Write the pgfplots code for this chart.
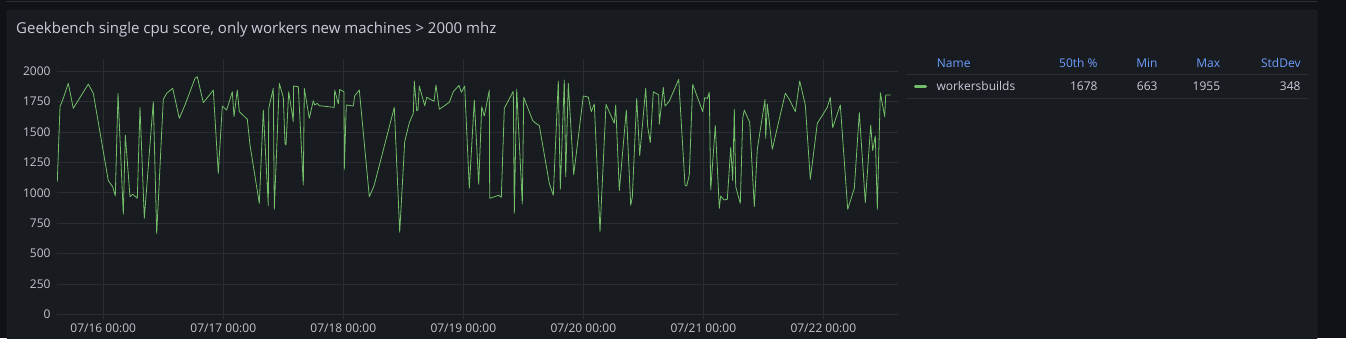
\documentclass[border=0pt]{standalone}
\usepackage{fontspec}
\setmainfont{Open Sans}
\usepackage{pgfplots}
\pgfplotsset{compat=1.18}
\definecolor{outerbg}{HTML}{111217}
\definecolor{panelbg}{HTML}{181B1F}
\definecolor{panelborder}{HTML}{2B2D33}
\definecolor{gridc}{HTML}{2A2D32}
\definecolor{txt}{HTML}{CCCCDC}
\definecolor{ticktxt}{HTML}{C4C4D0}
\definecolor{hdr}{HTML}{6E9FFF}
\definecolor{series}{HTML}{73BF69}
\begin{document}
\begin{tikzpicture}[x=1pt,y=1pt]
\fill[outerbg] (0,0) rectangle (1346,338);
\draw[panelborder] (6,336.5) -- (1317,336.5);
\fill[panelbg,draw=panelborder,rounded corners=2pt] (7,-5) rectangle (1317,327.5);
\node[anchor=base west,inner sep=0pt,text=txt,font=\fontsize{15}{18}\selectfont] at (16,304.7) {Geekbench single cpu score, only workers new machines > 2000 mhz};
\begin{axis}[
  at={(57pt,19.45pt)}, anchor=south west,
  scale only axis, width=841pt, height=259.4pt,
  xmin=-9.26, xmax=158.94, ymin=-35, ymax=2100,
  axis line style={draw=none},
  major tick length=0pt,
  grid=major,
  major grid style={gridc, line width=0.8pt},
  xtick={0,24,48,72,96,120,144},
  xticklabels={07/16 00:00,07/17 00:00,07/18 00:00,07/19 00:00,07/20 00:00,07/21 00:00,07/22 00:00},
  ytick={0,250,500,750,1000,1250,1500,1750,2000},
  /pgf/number format/assume math mode=true,
  /pgf/number format/1000 sep={},
  tick label style={text=ticktxt, font=\fontsize{12}{14}\selectfont},
  x tick label style={inner sep=0pt, anchor=north, yshift=-4.8pt},
  y tick label style={inner sep=0pt, anchor=east, xshift=-6.3pt},
  clip=true,
]
\addplot[series, line width=0.8pt, line join=round] coordinates {
(-9.20,1092) (-8.66,1709) (-8.00,1778) (-7.00,1901) (-6.00,1695) (-3.00,1895) (-2.00,1819)
(1.00,1100) (1.88,1050) (2.40,974) (2.94,1819) (4.00,823) (4.40,1476) (5.34,968) (5.88,988)
(6.80,955) (7.34,1703) (8.20,790) (10.00,1750) (10.68,663) (12.00,1769) (12.68,1819)
(13.88,1860) (15.20,1613) (16.34,1723) (18.34,1942) (18.80,1955) (20.00,1742) (21.88,1838)
(22.00,1846) (23.00,1160) (23.80,1714) (24.68,1681) (25.80,1832) (26.14,1627) (26.80,1846)
(27.20,1668) (28.80,1605) (29.34,1393) (31.20,913) (32.00,1681) (33.00,894) (33.08,1695)
(34.00,1860) (34.20,864) (35.20,1901) (36.00,1786) (36.34,1407) (36.54,1393) (37.08,1832)
(38.00,1585) (38.06,1879) (39.00,1873) (40.00,1064) (40.20,1860) (41.20,1613) (42.00,1758)
(42.28,1723) (42.80,1736) (43.20,1717) (46.20,1703) (46.28,1846) (47.00,1731) (47.28,1851)
(48.14,1830) (48.20,1193) (48.60,1723) (50.00,1714) (50.28,1799) (51.20,1846) (53.20,968)
(54.14,1056) (58.20,1703) (59.28,675) (60.28,1421) (61.20,1577) (62.00,1654) (62.20,1920)
(62.68,1676) (62.94,1681) (63.20,1879) (64.28,1717) (64.68,1786) (66.14,1753) (66.54,1887)
(67.20,1687) (69.20,1745) (70.00,1832) (71.14,1884) (71.60,1827) (72.28,1879) (73.20,1037)
(74.20,1764) (75.08,1070) (75.68,1709) (76.20,1632) (77.20,1846) (77.28,955) (79.08,979)
(79.60,963) (80.20,1695) (82.00,1835) (82.20,831) (82.68,1851) (83.80,908) (84.08,1786)
(85.88,1594) (86.34,1577) (87.20,1553) (89.20,1078) (90.00,979) (91.00,1920) (91.40,1029)
(92.20,1928) (92.48,1133) (93.00,1901) (94.08,1149) (96.00,1797) (97.00,1788) (97.60,1668)
(98.20,1731) (99.34,680) (100.54,1728) (102.20,1572) (102.48,1723) (103.20,1018) (104.60,1681)
(105.48,897) (105.80,963) (106.68,1777) (107.28,1306) (108.48,1860) (108.88,1544) (109.40,1413)
(110.00,1832) (111.08,1805) (111.20,1564) (112.00,1868) (112.34,1714) (113.14,1750) (115.08,1934)
(116.34,1064) (116.68,1056) (117.20,1147) (117.88,1893) (119.88,1668) (120.28,1783) (120.80,1777)
(121.20,1827) (121.48,1023) (122.40,1553) (123.20,872) (123.48,974) (124.14,941) (124.80,946)
(125.48,1374) (125.88,1100) (126.20,1687) (126.48,1051) (127.40,913) (127.88,1613) (128.20,1681)
(129.28,1580) (130.20,886) (130.80,1358) (132.34,1769) (132.48,1448) (132.80,1731) (133.80,1358)
(136.40,1819) (137.20,1769) (138.40,1668) (139.28,1920) (140.40,1723) (141.40,1111) (142.80,1572)
(144.80,1703) (145.40,1786) (145.88,1536) (147.40,1723) (148.88,864) (150.20,1037) (151.20,1660)
(152.40,919) (153.48,1558) (153.88,1347) (154.40,1468) (154.80,864) (155.40,1824) (156.28,1627)
(156.48,1805) (157.48,1805)
};
\end{axis}
% legend table
\begin{scope}[every node/.style={inner sep=0pt, font=\fontsize{12}{14}\selectfont}]
\node[anchor=base west,text=hdr] at (936.7,270.7) {Name};
\node[anchor=base east,text=hdr] at (1097.7,270.7) {50th \%};
\node[anchor=base east,text=hdr] at (1157.7,270.7) {Min};
\node[anchor=base east,text=hdr] at (1220.3,270.7) {Max};
\node[anchor=base east,text=hdr] at (1300.7,270.7) {StdDev};
\draw[panelborder, line width=0.8pt] (906,263.7) -- (1308.5,263.7);
\draw[series, line width=3.5pt, line cap=round] (915.5,251.3) -- (925.5,251.3);
\node[anchor=base west,text=txt] at (936.3,247.3) {workersbuilds};
\node[anchor=base east,text=txt] at (1097.7,247.3) {1678};
\node[anchor=base east,text=txt] at (1157.7,247.3) {663};
\node[anchor=base east,text=txt] at (1220.3,247.3) {1955};
\node[anchor=base east,text=txt] at (1300.7,247.3) {348};
\draw[panelborder, line width=0.8pt] (906,239.7) -- (1308.5,239.7);
\end{scope}
\pgfresetboundingbox
\path (0,0) rectangle (1346,338);
\end{tikzpicture}
\end{document}
